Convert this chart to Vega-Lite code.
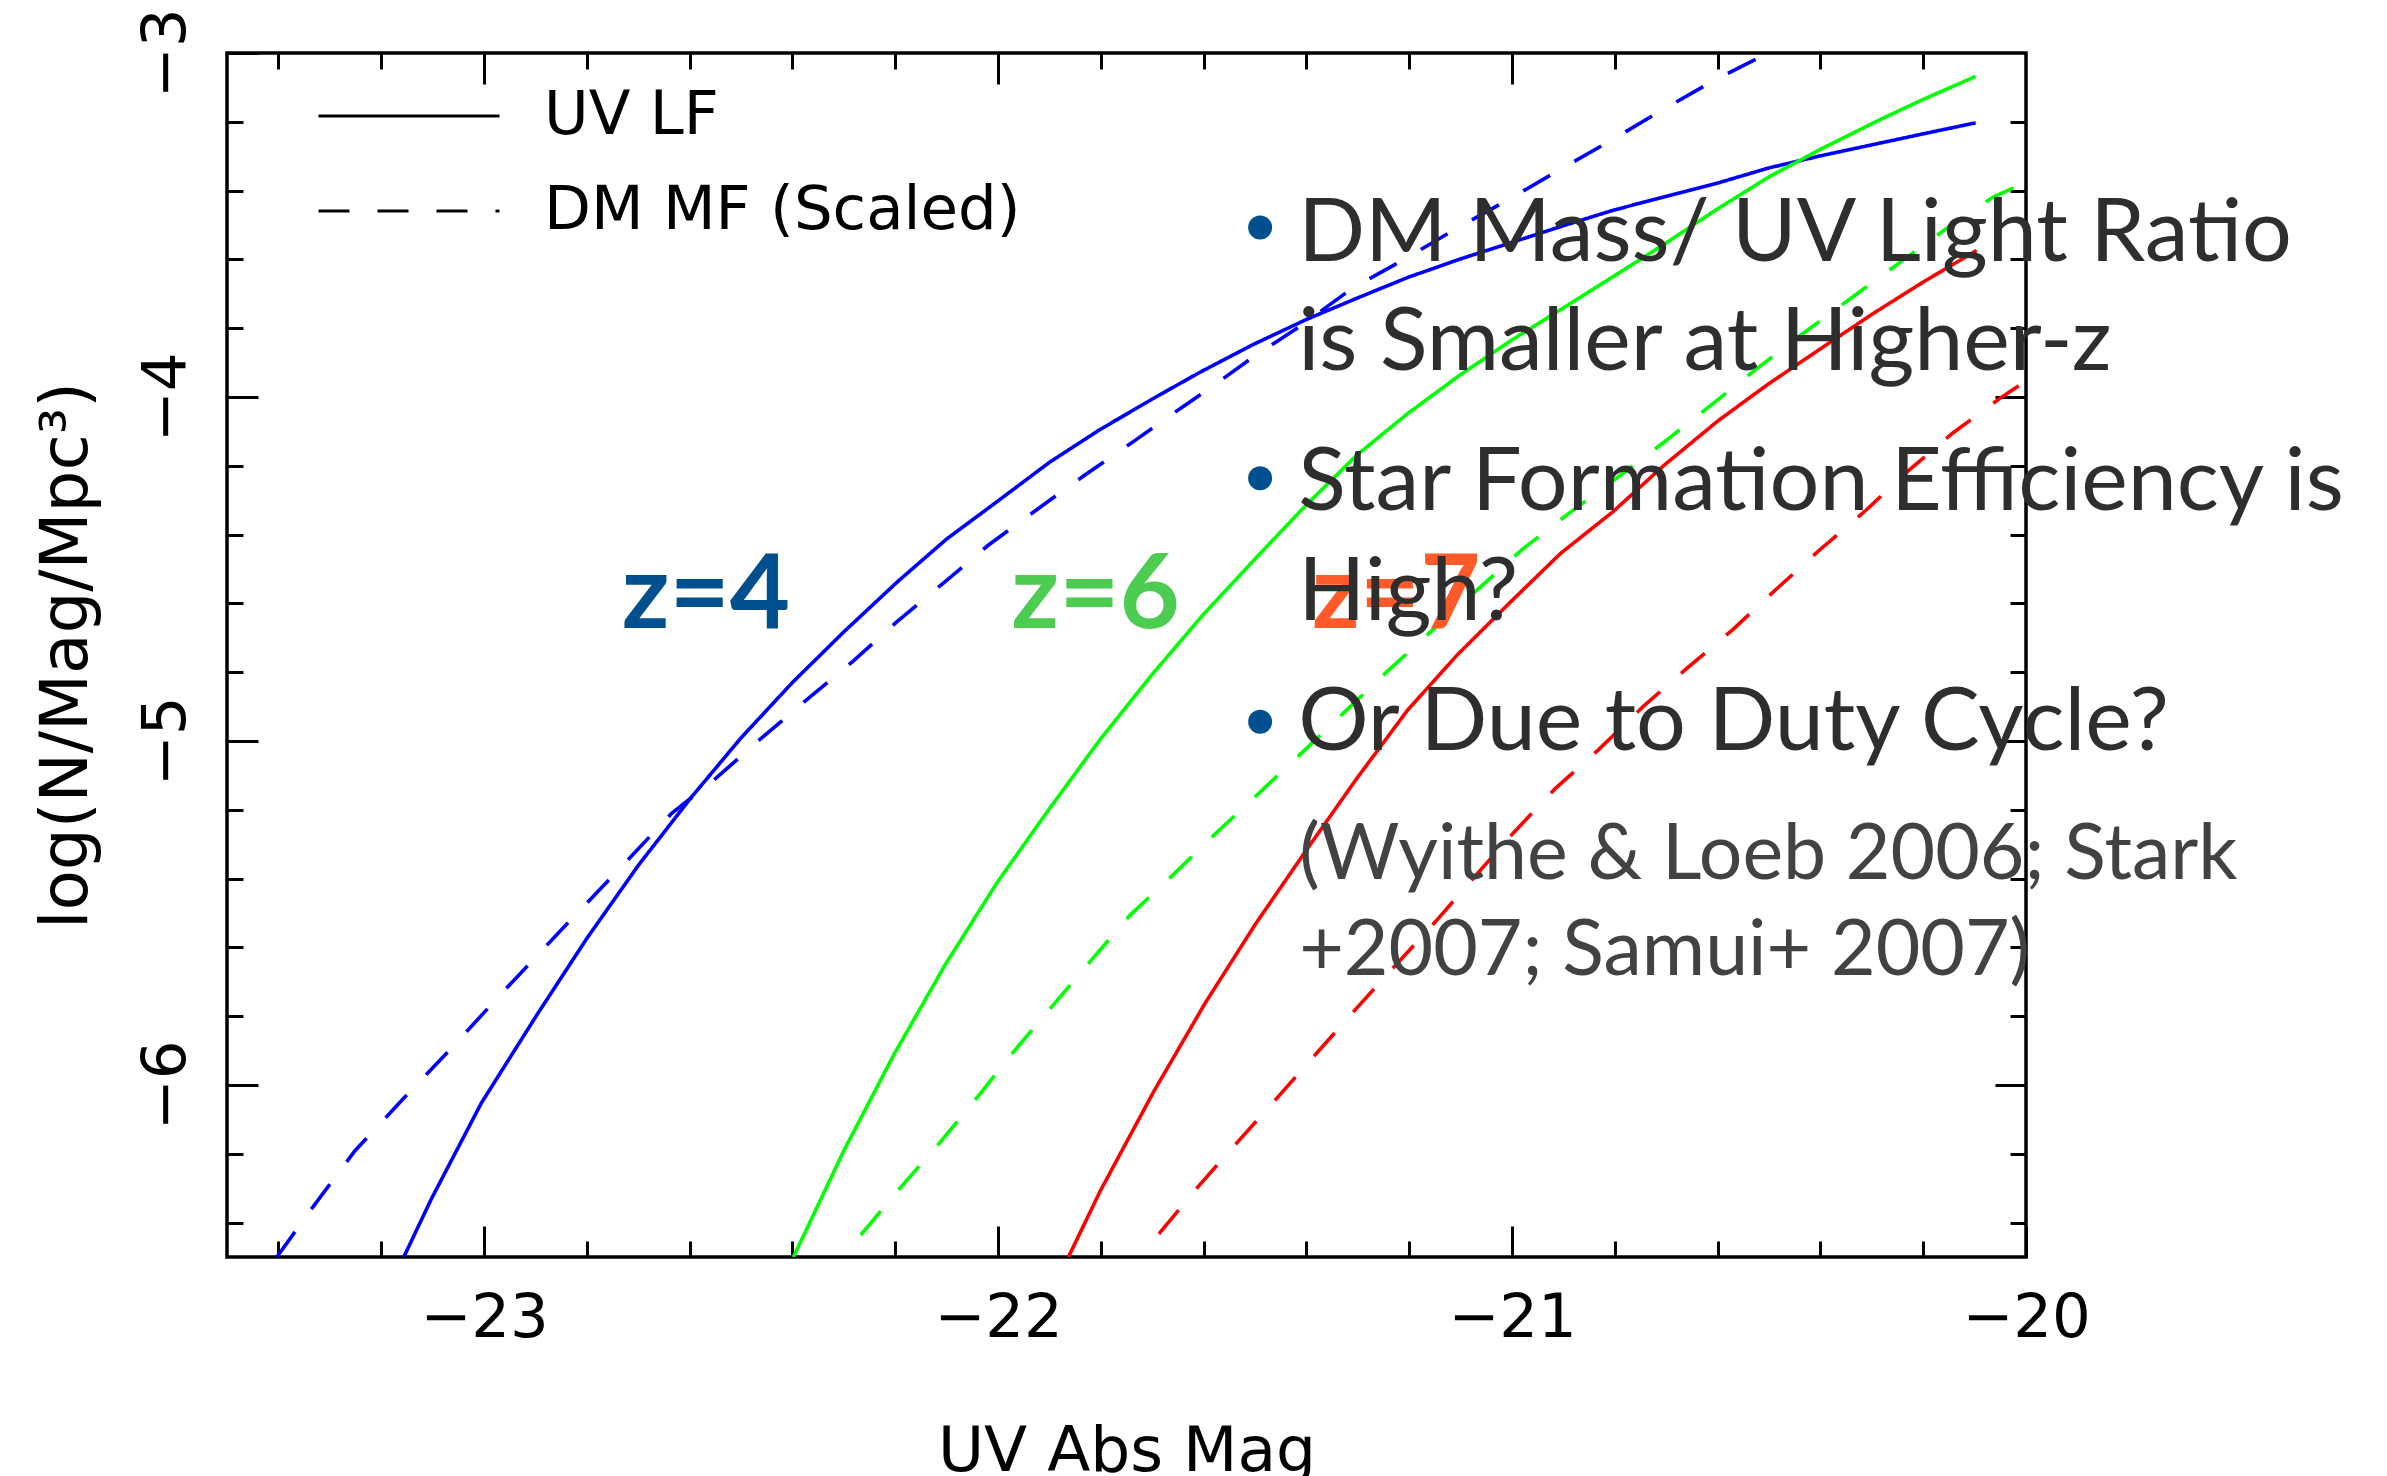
{
  "$schema": "https://vega.github.io/schema/vega-lite/v6.json",
  "width": 1799,
  "height": 1204,
  "autosize": {"type": "none"},
  "padding": {"left": 227, "top": 53, "right": 361, "bottom": 219},
  "background": "white",
  "config": {
    "view": {"stroke": "black", "strokeWidth": 3.5},
    "axis": {
      "domain": false,
      "grid": false,
      "tickColor": "black",
      "tickWidth": 3,
      "labelFont": "DejaVu Sans",
      "labelColor": "black",
      "labelFontSize": 61,
      "labelOverlap": false,
      "labelFlush": false,
      "labelBound": false,
      "labelLimit": 600,
      "format": ".0f",
      "titleFont": "DejaVu Sans",
      "titleFontWeight": "normal",
      "titleColor": "black",
      "titleFontSize": 63,
      "titleLimit": 1200
    }
  },
  "datasets": {
    "curves": [
      {"z": 4, "kind": "UV LF", "mag": -23.156, "logn": -6.5},
      {"z": 4, "kind": "UV LF", "mag": -23.102, "logn": -6.33},
      {"z": 4, "kind": "UV LF", "mag": -23.005, "logn": -6.052},
      {"z": 4, "kind": "UV LF", "mag": -22.897, "logn": -5.796},
      {"z": 4, "kind": "UV LF", "mag": -22.8, "logn": -5.574},
      {"z": 4, "kind": "UV LF", "mag": -22.7, "logn": -5.362},
      {"z": 4, "kind": "UV LF", "mag": -22.598, "logn": -5.166},
      {"z": 4, "kind": "UV LF", "mag": -22.5, "logn": -4.991},
      {"z": 4, "kind": "UV LF", "mag": -22.4, "logn": -4.83},
      {"z": 4, "kind": "UV LF", "mag": -22.298, "logn": -4.68},
      {"z": 4, "kind": "UV LF", "mag": -22.194, "logn": -4.535},
      {"z": 4, "kind": "UV LF", "mag": -22.1, "logn": -4.413},
      {"z": 4, "kind": "UV LF", "mag": -21.999, "logn": -4.301},
      {"z": 4, "kind": "UV LF", "mag": -21.9, "logn": -4.19},
      {"z": 4, "kind": "UV LF", "mag": -21.803, "logn": -4.096},
      {"z": 4, "kind": "UV LF", "mag": -21.7, "logn": -4.006},
      {"z": 4, "kind": "UV LF", "mag": -21.607, "logn": -3.928},
      {"z": 4, "kind": "UV LF", "mag": -21.503, "logn": -3.847},
      {"z": 4, "kind": "UV LF", "mag": -21.399, "logn": -3.774},
      {"z": 4, "kind": "UV LF", "mag": -21.302, "logn": -3.713},
      {"z": 4, "kind": "UV LF", "mag": -21.202, "logn": -3.652},
      {"z": 4, "kind": "UV LF", "mag": -21.101, "logn": -3.599},
      {"z": 4, "kind": "UV LF", "mag": -21.001, "logn": -3.551},
      {"z": 4, "kind": "UV LF", "mag": -20.9, "logn": -3.502},
      {"z": 4, "kind": "UV LF", "mag": -20.803, "logn": -3.457},
      {"z": 4, "kind": "UV LF", "mag": -20.703, "logn": -3.418},
      {"z": 4, "kind": "UV LF", "mag": -20.602, "logn": -3.379},
      {"z": 4, "kind": "UV LF", "mag": -20.5, "logn": -3.334},
      {"z": 4, "kind": "UV LF", "mag": -20.4, "logn": -3.299},
      {"z": 4, "kind": "UV LF", "mag": -20.3, "logn": -3.267},
      {"z": 4, "kind": "UV LF", "mag": -20.2, "logn": -3.235},
      {"z": 4, "kind": "UV LF", "mag": -20.098, "logn": -3.203},

      {"z": 4, "kind": "DM MF (Scaled)", "mag": -23.403, "logn": -6.5},
      {"z": 4, "kind": "DM MF (Scaled)", "mag": -23.34, "logn": -6.369},
      {"z": 4, "kind": "DM MF (Scaled)", "mag": -23.251, "logn": -6.191},
      {"z": 4, "kind": "DM MF (Scaled)", "mag": -23.154, "logn": -6.035},
      {"z": 4, "kind": "DM MF (Scaled)", "mag": -23.076, "logn": -5.913},
      {"z": 4, "kind": "DM MF (Scaled)", "mag": -22.956, "logn": -5.718},
      {"z": 4, "kind": "DM MF (Scaled)", "mag": -22.837, "logn": -5.529},
      {"z": 4, "kind": "DM MF (Scaled)", "mag": -22.755, "logn": -5.401},
      {"z": 4, "kind": "DM MF (Scaled)", "mag": -22.636, "logn": -5.212},
      {"z": 4, "kind": "DM MF (Scaled)", "mag": -22.547, "logn": -5.106},
      {"z": 4, "kind": "DM MF (Scaled)", "mag": -22.462, "logn": -4.994},
      {"z": 4, "kind": "DM MF (Scaled)", "mag": -22.372, "logn": -4.88},
      {"z": 4, "kind": "DM MF (Scaled)", "mag": -22.283, "logn": -4.769},
      {"z": 4, "kind": "DM MF (Scaled)", "mag": -22.197, "logn": -4.654},
      {"z": 4, "kind": "DM MF (Scaled)", "mag": -22.108, "logn": -4.543},
      {"z": 4, "kind": "DM MF (Scaled)", "mag": -22.019, "logn": -4.431},
      {"z": 4, "kind": "DM MF (Scaled)", "mag": -21.926, "logn": -4.329},
      {"z": 4, "kind": "DM MF (Scaled)", "mag": -21.833, "logn": -4.229},
      {"z": 4, "kind": "DM MF (Scaled)", "mag": -21.736, "logn": -4.129},
      {"z": 4, "kind": "DM MF (Scaled)", "mag": -21.643, "logn": -4.031},
      {"z": 4, "kind": "DM MF (Scaled)", "mag": -21.593, "logn": -3.98},
      {"z": 4, "kind": "DM MF (Scaled)", "mag": -21.5, "logn": -3.88},
      {"z": 4, "kind": "DM MF (Scaled)", "mag": -21.406, "logn": -3.788},
      {"z": 4, "kind": "DM MF (Scaled)", "mag": -21.31, "logn": -3.683},
      {"z": 4, "kind": "DM MF (Scaled)", "mag": -21.205, "logn": -3.596},
      {"z": 4, "kind": "DM MF (Scaled)", "mag": -21.109, "logn": -3.511},
      {"z": 4, "kind": "DM MF (Scaled)", "mag": -21.008, "logn": -3.427},
      {"z": 4, "kind": "DM MF (Scaled)", "mag": -20.908, "logn": -3.34},
      {"z": 4, "kind": "DM MF (Scaled)", "mag": -20.807, "logn": -3.254},
      {"z": 4, "kind": "DM MF (Scaled)", "mag": -20.707, "logn": -3.165},
      {"z": 4, "kind": "DM MF (Scaled)", "mag": -20.606, "logn": -3.079},
      {"z": 4, "kind": "DM MF (Scaled)", "mag": -20.502, "logn": -3.0},

      {"z": 6, "kind": "UV LF", "mag": -22.398, "logn": -6.5},
      {"z": 6, "kind": "UV LF", "mag": -22.3, "logn": -6.191},
      {"z": 6, "kind": "UV LF", "mag": -22.203, "logn": -5.913},
      {"z": 6, "kind": "UV LF", "mag": -22.103, "logn": -5.651},
      {"z": 6, "kind": "UV LF", "mag": -22.002, "logn": -5.412},
      {"z": 6, "kind": "UV LF", "mag": -21.902, "logn": -5.201},
      {"z": 6, "kind": "UV LF", "mag": -21.801, "logn": -4.995},
      {"z": 6, "kind": "UV LF", "mag": -21.701, "logn": -4.808},
      {"z": 6, "kind": "UV LF", "mag": -21.601, "logn": -4.633},
      {"z": 6, "kind": "UV LF", "mag": -21.497, "logn": -4.466},
      {"z": 6, "kind": "UV LF", "mag": -21.403, "logn": -4.318},
      {"z": 6, "kind": "UV LF", "mag": -21.302, "logn": -4.169},
      {"z": 6, "kind": "UV LF", "mag": -21.202, "logn": -4.047},
      {"z": 6, "kind": "UV LF", "mag": -21.101, "logn": -3.936},
      {"z": 6, "kind": "UV LF", "mag": -21.001, "logn": -3.835},
      {"z": 6, "kind": "UV LF", "mag": -20.9, "logn": -3.741},
      {"z": 6, "kind": "UV LF", "mag": -20.8, "logn": -3.647},
      {"z": 6, "kind": "UV LF", "mag": -20.703, "logn": -3.555},
      {"z": 6, "kind": "UV LF", "mag": -20.602, "logn": -3.455},
      {"z": 6, "kind": "UV LF", "mag": -20.5, "logn": -3.36},
      {"z": 6, "kind": "UV LF", "mag": -20.4, "logn": -3.28},
      {"z": 6, "kind": "UV LF", "mag": -20.279, "logn": -3.19},
      {"z": 6, "kind": "UV LF", "mag": -20.2, "logn": -3.135},
      {"z": 6, "kind": "UV LF", "mag": -20.098, "logn": -3.068},

      {"z": 6, "kind": "DM MF (Scaled)", "mag": -22.267, "logn": -6.436},
      {"z": 6, "kind": "DM MF (Scaled)", "mag": -22.192, "logn": -6.302},
      {"z": 6, "kind": "DM MF (Scaled)", "mag": -22.114, "logn": -6.169},
      {"z": 6, "kind": "DM MF (Scaled)", "mag": -22.04, "logn": -6.035},
      {"z": 6, "kind": "DM MF (Scaled)", "mag": -21.969, "logn": -5.902},
      {"z": 6, "kind": "DM MF (Scaled)", "mag": -21.894, "logn": -5.77},
      {"z": 6, "kind": "DM MF (Scaled)", "mag": -21.82, "logn": -5.64},
      {"z": 6, "kind": "DM MF (Scaled)", "mag": -21.743, "logn": -5.506},
      {"z": 6, "kind": "DM MF (Scaled)", "mag": -21.66, "logn": -5.39},
      {"z": 6, "kind": "DM MF (Scaled)", "mag": -21.576, "logn": -5.268},
      {"z": 6, "kind": "DM MF (Scaled)", "mag": -21.492, "logn": -5.151},
      {"z": 6, "kind": "DM MF (Scaled)", "mag": -21.408, "logn": -5.033},
      {"z": 6, "kind": "DM MF (Scaled)", "mag": -21.326, "logn": -4.916},
      {"z": 6, "kind": "DM MF (Scaled)", "mag": -21.24, "logn": -4.794},
      {"z": 6, "kind": "DM MF (Scaled)", "mag": -21.154, "logn": -4.677},
      {"z": 6, "kind": "DM MF (Scaled)", "mag": -21.065, "logn": -4.557},
      {"z": 6, "kind": "DM MF (Scaled)", "mag": -20.98, "logn": -4.443},
      {"z": 6, "kind": "DM MF (Scaled)", "mag": -20.89, "logn": -4.339},
      {"z": 6, "kind": "DM MF (Scaled)", "mag": -20.8, "logn": -4.24},
      {"z": 6, "kind": "DM MF (Scaled)", "mag": -20.703, "logn": -4.13},
      {"z": 6, "kind": "DM MF (Scaled)", "mag": -20.614, "logn": -4.025},
      {"z": 6, "kind": "DM MF (Scaled)", "mag": -20.525, "logn": -3.919},
      {"z": 6, "kind": "DM MF (Scaled)", "mag": -20.435, "logn": -3.817},
      {"z": 6, "kind": "DM MF (Scaled)", "mag": -20.338, "logn": -3.71},
      {"z": 6, "kind": "DM MF (Scaled)", "mag": -20.249, "logn": -3.613},
      {"z": 6, "kind": "DM MF (Scaled)", "mag": -20.152, "logn": -3.507},
      {"z": 6, "kind": "DM MF (Scaled)", "mag": -20.063, "logn": -3.418},
      {"z": 6, "kind": "DM MF (Scaled)", "mag": -20.0, "logn": -3.376},

      {"z": 7, "kind": "UV LF", "mag": -21.863, "logn": -6.5},
      {"z": 7, "kind": "UV LF", "mag": -21.801, "logn": -6.308},
      {"z": 7, "kind": "UV LF", "mag": -21.697, "logn": -6.019},
      {"z": 7, "kind": "UV LF", "mag": -21.597, "logn": -5.762},
      {"z": 7, "kind": "UV LF", "mag": -21.499, "logn": -5.532},
      {"z": 7, "kind": "UV LF", "mag": -21.4, "logn": -5.317},
      {"z": 7, "kind": "UV LF", "mag": -21.303, "logn": -5.111},
      {"z": 7, "kind": "UV LF", "mag": -21.203, "logn": -4.91},
      {"z": 7, "kind": "UV LF", "mag": -21.106, "logn": -4.749},
      {"z": 7, "kind": "UV LF", "mag": -21.005, "logn": -4.599},
      {"z": 7, "kind": "UV LF", "mag": -20.905, "logn": -4.454},
      {"z": 7, "kind": "UV LF", "mag": -20.804, "logn": -4.334},
      {"z": 7, "kind": "UV LF", "mag": -20.703, "logn": -4.197},
      {"z": 7, "kind": "UV LF", "mag": -20.599, "logn": -4.069},
      {"z": 7, "kind": "UV LF", "mag": -20.502, "logn": -3.963},
      {"z": 7, "kind": "UV LF", "mag": -20.398, "logn": -3.858},
      {"z": 7, "kind": "UV LF", "mag": -20.297, "logn": -3.757},
      {"z": 7, "kind": "UV LF", "mag": -20.197, "logn": -3.663},
      {"z": 7, "kind": "UV LF", "mag": -20.096, "logn": -3.574},

      {"z": 7, "kind": "DM MF (Scaled)", "mag": -21.687, "logn": -6.433},
      {"z": 7, "kind": "DM MF (Scaled)", "mag": -21.611, "logn": -6.296},
      {"z": 7, "kind": "DM MF (Scaled)", "mag": -21.537, "logn": -6.171},
      {"z": 7, "kind": "DM MF (Scaled)", "mag": -21.459, "logn": -6.041},
      {"z": 7, "kind": "DM MF (Scaled)", "mag": -21.375, "logn": -5.899},
      {"z": 7, "kind": "DM MF (Scaled)", "mag": -21.303, "logn": -5.778},
      {"z": 7, "kind": "DM MF (Scaled)", "mag": -21.226, "logn": -5.651},
      {"z": 7, "kind": "DM MF (Scaled)", "mag": -21.147, "logn": -5.522},
      {"z": 7, "kind": "DM MF (Scaled)", "mag": -21.073, "logn": -5.395},
      {"z": 7, "kind": "DM MF (Scaled)", "mag": -20.996, "logn": -5.265},
      {"z": 7, "kind": "DM MF (Scaled)", "mag": -20.917, "logn": -5.14},
      {"z": 7, "kind": "DM MF (Scaled)", "mag": -20.83, "logn": -5.023},
      {"z": 7, "kind": "DM MF (Scaled)", "mag": -20.745, "logn": -4.9},
      {"z": 7, "kind": "DM MF (Scaled)", "mag": -20.66, "logn": -4.789},
      {"z": 7, "kind": "DM MF (Scaled)", "mag": -20.571, "logn": -4.677},
      {"z": 7, "kind": "DM MF (Scaled)", "mag": -20.486, "logn": -4.559},
      {"z": 7, "kind": "DM MF (Scaled)", "mag": -20.401, "logn": -4.444},
      {"z": 7, "kind": "DM MF (Scaled)", "mag": -20.312, "logn": -4.33},
      {"z": 7, "kind": "DM MF (Scaled)", "mag": -20.227, "logn": -4.212},
      {"z": 7, "kind": "DM MF (Scaled)", "mag": -20.141, "logn": -4.103},
      {"z": 7, "kind": "DM MF (Scaled)", "mag": -20.046, "logn": -3.999},
      {"z": 7, "kind": "DM MF (Scaled)", "mag": -19.998, "logn": -3.951}
    ],
    "notes": [
      {"group": "zlabel", "line": "z=4", "mag": -22.732, "logn": -4.672},
      {"group": "zlabel", "line": "z=6", "mag": -21.974, "logn": -4.672},
      {"group": "zlabel", "line": "z=7", "mag": -21.389, "logn": -4.672},
      {"group": "bullet", "line": "", "mag": -21.49, "logn": -3.507},
      {"group": "bullet", "line": "", "mag": -21.49, "logn": -4.236},
      {"group": "bullet", "line": "", "mag": -21.49, "logn": -4.944},
      {"group": "point", "line": "DM Mass/ UV Light Ratio", "mag": -21.416, "logn": -3.605},
      {"group": "point", "line": "is Smaller at Higher-z", "mag": -21.416, "logn": -3.922},
      {"group": "point", "line": "Star Formation Efficiency is", "mag": -21.416, "logn": -4.329},
      {"group": "point", "line": "High?", "mag": -21.416, "logn": -4.648},
      {"group": "point", "line": "Or Due to Duty Cycle?", "mag": -21.416, "logn": -5.026},
      {"group": "ref", "line": "(Wyithe & Loeb 2006; Stark", "mag": -21.414, "logn": -5.4},
      {"group": "ref", "line": "+2007; Samui+ 2007)", "mag": -21.414, "logn": -5.68}
    ]
  },
  "layer": [
    {
      "data": {"name": "curves"},
      "mark": {"type": "line", "strokeWidth": 3.6, "clip": true},
      "encoding": {
        "x": {
          "field": "mag", "type": "quantitative",
          "scale": {"domain": [-23.5, -20], "nice": false, "zero": false},
          "axis": {
            "orient": "bottom",
            "values": [-23.4, -23.2, -23, -22.8, -22.6, -22.4, -22.2, -22, -21.8, -21.6, -21.4, -21.2, -21, -20.8, -20.6, -20.4, -20.2, -20],
            "tickSize": {"condition": {"test": "datum.value % 1 === 0", "value": -31}, "value": -16},
            "labelExpr": "datum.value % 1 === 0 ? datum.label : ''",
            "labelPadding": 62,
            "title": "UV Abs Mag",
            "titleBaseline": "alphabetic",
            "titleX": 899.5,
            "titleY": 213
          }
        },
        "y": {
          "field": "logn", "type": "quantitative",
          "scale": {"domain": [-6.5, -3], "nice": false, "zero": false},
          "axis": {
            "orient": "left",
            "values": [-6.4, -6.2, -6, -5.8, -5.6, -5.4, -5.2, -5, -4.8, -4.6, -4.4, -4.2, -4, -3.8, -3.6, -3.4, -3.2, -3],
            "tickSize": {"condition": {"test": "datum.value % 1 === 0", "value": -31}, "value": -16},
            "labelExpr": "datum.value % 1 === 0 ? datum.label : ''",
            "labelAngle": -90,
            "labelAlign": "center",
            "labelBaseline": "bottom",
            "labelPadding": 61,
            "title": "log(N/Mag/Mpc³)",
            "titleFontSize": 66,
            "titleAngle": -90,
            "titleBaseline": "alphabetic",
            "titleAlign": "center",
            "titleX": -141,
            "titleY": 602
          }
        },
        "color": {
          "field": "z", "type": "nominal",
          "scale": {"domain": [4, 6, 7], "range": ["#0000ff", "#00ff00", "#ff0000"]},
          "legend": null
        },
        "strokeDash": {
          "field": "kind", "type": "nominal",
          "scale": {"domain": ["UV LF", "DM MF (Scaled)"], "range": [[1, 0], [31, 28]]},
          "legend": {
            "orient": "none",
            "legendX": 135,
            "legendY": 16,
            "title": null,
            "padding": 0,
            "symbolType": "M-2,0H2",
            "symbolSize": 8190,
            "symbolStrokeWidth": 3,
            "symbolStrokeColor": "black",
            "symbolFillColor": "transparent",
            "labelFont": "DejaVu Sans",
            "labelFontSize": 61,
            "labelColor": "black",
            "labelOffset": 88,
            "labelLimit": 0,
            "rowPadding": 18
          }
        }
      }
    },
    {
      "data": {"name": "curves"},
      "mark": {"type": "line", "opacity": 0},
      "encoding": {
        "x": {
          "field": "mag", "type": "quantitative",
          "scale": {"domain": [-23.5, -20], "nice": false, "zero": false},
          "axis": {
            "orient": "top",
            "values": [-23.4, -23.2, -23, -22.8, -22.6, -22.4, -22.2, -22, -21.8, -21.6, -21.4, -21.2, -21, -20.8, -20.6, -20.4, -20.2],
            "tickSize": {"condition": {"test": "datum.value % 1 === 0", "value": -31}, "value": -16},
            "labels": false,
            "title": null
          }
        },
        "y": {
          "field": "logn", "type": "quantitative",
          "scale": {"domain": [-6.5, -3], "nice": false, "zero": false},
          "axis": {
            "orient": "right",
            "values": [-6.4, -6.2, -6, -5.8, -5.6, -5.4, -5.2, -5, -4.8, -4.6, -4.4, -4.2, -4, -3.8, -3.6, -3.4, -3.2],
            "tickSize": {"condition": {"test": "datum.value % 1 === 0", "value": -31}, "value": -16},
            "labels": false,
            "title": null
          }
        },
        "detail": {"field": "z"}
      }
    },
    {
      "data": {"name": "notes"},
      "transform": [{"filter": "datum.group === 'zlabel'"}],
      "mark": {"type": "text", "align": "left", "baseline": "alphabetic", "font": "Lato", "fontWeight": "bold", "fontSize": 104},
      "encoding": {
        "x": {"field": "mag", "type": "quantitative", "scale": {"domain": [-23.5, -20], "nice": false, "zero": false}, "axis": null},
        "y": {"field": "logn", "type": "quantitative", "scale": {"domain": [-6.5, -3], "nice": false, "zero": false}, "axis": null},
        "text": {"field": "line"},
        "color": {
          "field": "line", "type": "nominal",
          "scale": {"domain": ["z=4", "z=6", "z=7"], "range": ["#00508f", "#4ccd52", "#ff5a2a"]},
          "legend": null
        }
      }
    },
    {
      "data": {"name": "notes"},
      "transform": [{"filter": "datum.group === 'bullet'"}],
      "mark": {"type": "circle", "size": 576, "color": "#00508f", "opacity": 1},
      "encoding": {
        "x": {"field": "mag", "type": "quantitative", "scale": {"domain": [-23.5, -20], "nice": false, "zero": false}, "axis": null},
        "y": {"field": "logn", "type": "quantitative", "scale": {"domain": [-6.5, -3], "nice": false, "zero": false}, "axis": null}
      }
    },
    {
      "data": {"name": "notes"},
      "transform": [{"filter": "datum.group === 'point'"}],
      "mark": {"type": "text", "align": "left", "baseline": "alphabetic", "font": "Lato", "fontSize": 88, "color": "#2e2e2e"},
      "encoding": {
        "x": {"field": "mag", "type": "quantitative", "scale": {"domain": [-23.5, -20], "nice": false, "zero": false}, "axis": null},
        "y": {"field": "logn", "type": "quantitative", "scale": {"domain": [-6.5, -3], "nice": false, "zero": false}, "axis": null},
        "text": {"field": "line"}
      }
    },
    {
      "data": {"name": "notes"},
      "transform": [{"filter": "datum.group === 'ref'"}],
      "mark": {"type": "text", "align": "left", "baseline": "alphabetic", "font": "Lato", "fontSize": 77, "color": "#424242"},
      "encoding": {
        "x": {"field": "mag", "type": "quantitative", "scale": {"domain": [-23.5, -20], "nice": false, "zero": false}, "axis": null},
        "y": {"field": "logn", "type": "quantitative", "scale": {"domain": [-6.5, -3], "nice": false, "zero": false}, "axis": null},
        "text": {"field": "line"}
      }
    }
  ],
  "resolve": {
    "axis": {"x": "independent", "y": "independent"},
    "scale": {"color": "independent"}
  }
}
